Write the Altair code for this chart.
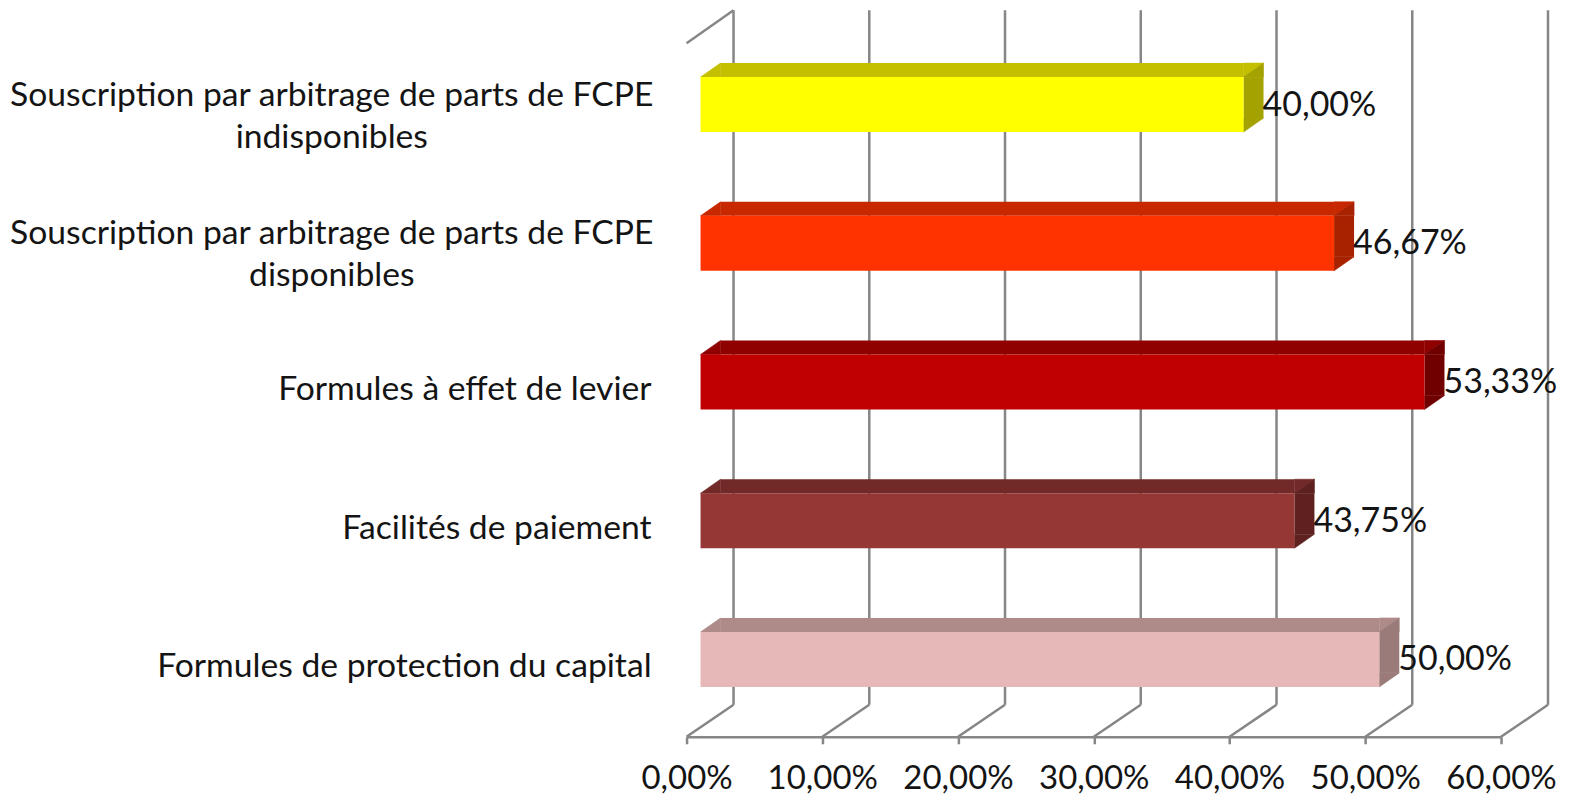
import altair as alt
import pandas as pd

# ---------------- data ----------------
categories = [
    "Souscription par arbitrage de parts de FCPE indisponibles",
    "Souscription par arbitrage de parts de FCPE disponibles",
    "Formules à effet de levier",
    "Facilités de paiement",
    "Formules de protection du capital",
]
label_lines = [
    ["Souscription par arbitrage de parts de FCPE", "indisponibles"],
    ["Souscription par arbitrage de parts de FCPE", "disponibles"],
    ["Formules à effet de levier"],
    ["Facilités de paiement"],
    ["Formules de protection du capital"],
]
values = [0.40, 0.4667, 0.5333, 0.4375, 0.50]
value_labels = ["40,00%", "46,67%", "53,33%", "43,75%", "50,00%"]
x_ticks = [0.0, 0.1, 0.2, 0.3, 0.4, 0.5, 0.6]

# ---------------- style ----------------
front_colors = ["#FFFF00", "#FF3300", "#C00000", "#953735", "#E6B9B8"]
top_colors = ["#C4C000", "#C82800", "#8F0000", "#722A28", "#AE8A89"]
side_colors = ["#A4A200", "#A82200", "#700000", "#5E2120", "#9A7B7A"]

FONT = "Lato"
FS_CAT = 33.7
FS_VAL = 34
FS_AX = 33
TXT = "#141414"
GRAY = "#868686"
LW = 2.5

W, H = 815, 694
DX, DY = 47, -32        # depth of the 3D box
BX, BY = 14, -8         # front face of bars relative to the front plane
BDX, BDY = 20, -14      # depth of each bar
BAR = 55                # bar thickness

df = pd.DataFrame({
    "cat": categories,
    "value": values,
    "start": [0.0] * len(values),
    "label": value_labels,
    "catlabel": ["\n".join(l) for l in label_lines],
    "multi": [len(l) > 1 for l in label_lines],
    "front": front_colors,
    "top": top_colors,
    "side": side_colors,
})
grid = pd.DataFrame({"v": x_ticks})

xs = alt.Scale(domain=[0, 0.6], nice=False, zero=True)
ys = alt.Scale(domain=categories, paddingInner=0, paddingOuter=0)

base = alt.Chart(df)
gbase = alt.Chart(grid)

Y = alt.Y("cat:N", scale=ys, axis=None, sort=categories)

# back wall gridlines
back_grid = gbase.mark_rule(color=GRAY, strokeWidth=LW, xOffset=DX, yOffset=DY - 1, y2Offset=DY).encode(
    x=alt.X("v:Q", scale=xs), y=alt.value(0), y2=alt.value(H)
)
# floor diagonals
floor = gbase.mark_rule(color=GRAY, strokeWidth=LW, x2Offset=DX, y2Offset=DY).encode(
    x=alt.X("v:Q", scale=xs), x2="v:Q", y=alt.value(H), y2=alt.value(H)
)
# top-left diagonal
top_diag = gbase.transform_filter("datum.v == 0").mark_rule(
    color=GRAY, strokeWidth=LW, x2Offset=DX, y2Offset=DY - 1
).encode(x=alt.X("v:Q", scale=xs), x2="v:Q", y=alt.value(0), y2=alt.value(0))

TRI_A = "M -1 0.7 L 1 -0.7 L 1 0.7 Z"     # bottom-left, top-right, bottom-right
TRI_B = "M -1 -0.7 L 1 -0.7 L -1 0.7 Z"   # top-left, top-right, bottom-left
TRI_C = "M -1 -0.7 L -1 0.7 L 1 -0.7 Z"   # top-left, bottom-left, top-right

top_y = BY - BAR / 2 + BDY / 2
bot_y = BY + BAR / 2 + BDY / 2

top_rect = base.mark_bar(size=-BDY, xOffset=BX + BDX, x2Offset=BX, yOffset=top_y, strokeWidth=0).encode(
    x=alt.X("start:Q", scale=xs), x2="value:Q", y=Y, color=alt.Color("top:N", scale=None)
)


def tri(shape, field, xfield, yoff):
    return base.mark_point(
        shape=shape, size=400, filled=True, opacity=1, strokeWidth=0.6,
        xOffset=BX + BDX / 2, yOffset=yoff,
    ).encode(
        x=alt.X(f"{xfield}:Q", scale=xs), y=Y,
        color=alt.Color(f"{field}:N", scale=None),
        stroke=alt.Stroke(f"{field}:N", scale=None),
    )


top_left = tri(TRI_A, "top", "start", top_y)
top_right = tri(TRI_B, "top", "value", top_y)

side_rect = base.mark_bar(size=BAR + BDY, xOffset=BX, x2Offset=BX + BDX, yOffset=BY + BDY / 2, strokeWidth=0).encode(
    x=alt.X("value:Q", scale=xs), x2="value:Q", y=Y, color=alt.Color("side:N", scale=None)
)
side_top = tri(TRI_A, "side", "value", top_y)
side_bot = tri(TRI_C, "side", "value", bot_y)

front = base.mark_bar(size=BAR, xOffset=BX, x2Offset=BX, yOffset=BY, strokeWidth=0).encode(
    x=alt.X(
        "start:Q", scale=xs, title=None,
        axis=alt.Axis(
            values=x_ticks, grid=False,
            labelExpr="replace(format(datum.value, '.2%'), '.', ',')",
            domainColor=GRAY, domainWidth=LW, tickColor=GRAY, tickWidth=LW, tickSize=7,
            labelFont=FONT, labelFontSize=FS_AX, labelColor=TXT, labelPadding=19,
            labelFlush=False, labelOverlap=False,
        ),
    ),
    x2="value:Q",
    y=alt.Y(
        "cat:N", scale=ys, sort=categories, title=None,
        axis=alt.Axis(
            labels=False, tickBand="extent", tickSize=7, tickColor=GRAY, tickWidth=LW,
            domainColor=GRAY, domainWidth=LW, grid=False,
        ),
    ),
    color=alt.Color("front:N", scale=None),
)

val_text = base.mark_text(
    align="left", baseline="middle", font=FONT, fontSize=FS_VAL, color=TXT,
    xOffset=BX + BDX - 1, yOffset=BY + 1,
).encode(x=alt.X("value:Q", scale=xs), y=Y, text="label:N")

cat_single = base.transform_filter("!datum.multi").mark_text(
    align="right", baseline="middle", font=FONT, fontSize=FS_CAT, color=TXT,
).encode(x=alt.value(-35), y=Y, text="catlabel:N")

cat_multi = base.transform_filter("datum.multi").mark_text(
    align="center", baseline="middle", font=FONT, fontSize=FS_CAT, color=TXT,
    lineBreak="\n", lineHeight=42, dy=-17,
).encode(x=alt.value(-355), y=Y, text="catlabel:N")

chart = alt.layer(
    back_grid, floor, top_diag,
    top_rect, top_left, top_right,
    side_rect, side_top, side_bot,
    front, val_text, cat_single, cat_multi,
).properties(
    width=W, height=H,
    autosize=alt.AutoSizeParams(type="none"),
    padding={"left": 679, "top": 35, "right": 60, "bottom": 58},
).configure(background="white", view=alt.ViewConfig(stroke=None))

chart.save("out.html", embed_options={"renderer": "svg", "actions": False})
